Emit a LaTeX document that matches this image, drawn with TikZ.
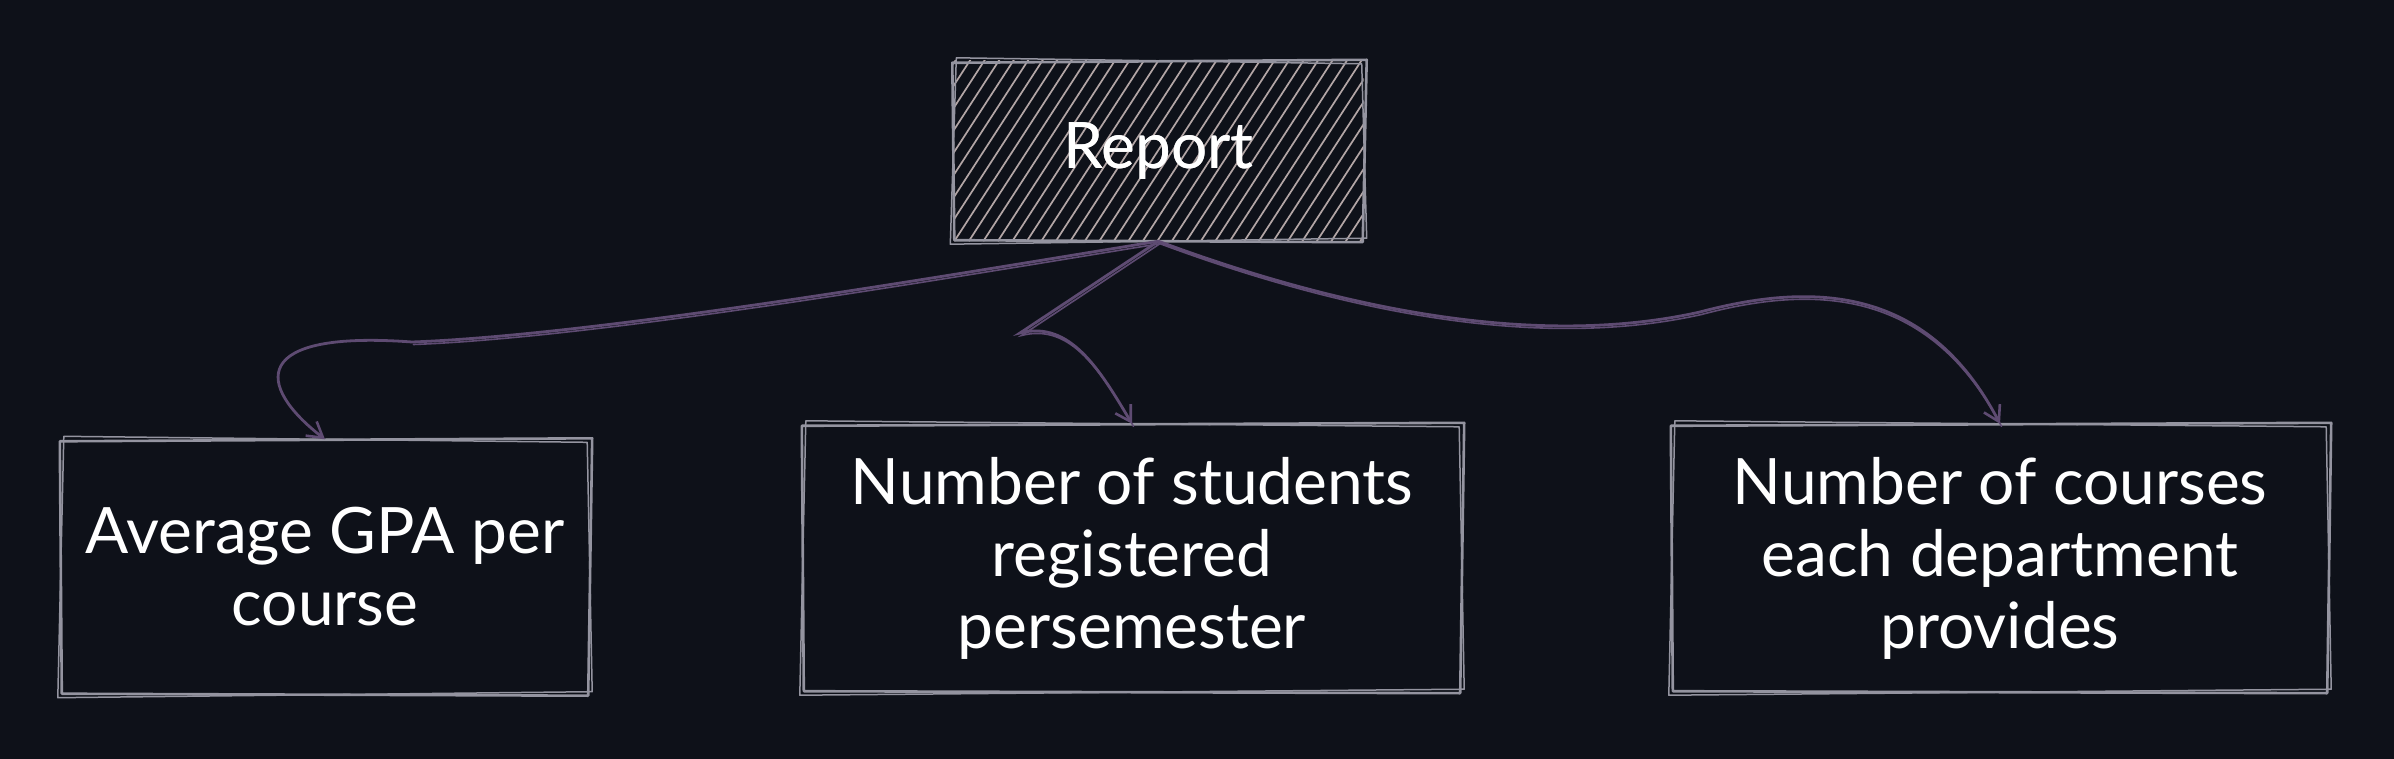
\documentclass[tikz,border=0pt]{standalone}
\usepackage{fontspec}
\setmainfont{Lato}
\usetikzlibrary{calc,arrows.meta}
\definecolor{bg}{HTML}{0E1119}
\definecolor{boxc}{HTML}{9494A0}
\definecolor{hatchc}{HTML}{B3A6A6}
\definecolor{arrc}{HTML}{5E4B72}
\newcommand\roughbox[1]{%
  \draw[boxline] ($(#1.north west)+(-1,2)$) -- ($(#1.north east)+(3,-1)$) -- ($(#1.south east)+(-1,1)$) -- ($(#1.south west)+(1,-1)$) -- cycle;
  \draw[boxline,line width=1.5pt] ($(#1.north west)+(3,-3)$) -- ($(#1.north east)+(-2,3)$) -- ($(#1.south east)+(3,-3)$) -- ($(#1.south west)+(-3,3)$) -- cycle;
}
\begin{document}
\begin{tikzpicture}[x=1pt,y=-1pt,
  lbl/.style={text=white, font=\fontsize{64}{72}\selectfont, align=center, inner sep=0pt, draw=none},
  boxline/.style={draw=boxc, line width=2.6pt, line join=round, line cap=round},
  hatch/.style={draw=hatchc, line width=1.7pt},
  conn/.style={draw=arrc, line width=2.8pt, line cap=round, -{Straight Barb[length=15pt,width=18pt,line width=2.6pt]}},
  connb/.style={draw=arrc, line width=1.6pt, line cap=round, transform canvas={shift={(1.5pt,-2.5pt)}}}]
\fill[bg] (0,0) rectangle (2394,759);
\useasboundingbox (0,0) rectangle (2394,759);

\node[lbl, minimum width=410pt, minimum height=180pt] (rep) at (1158.5,151) {Report};
\node[lbl, minimum width=528pt, minimum height=255pt] (avg) at (325,567) {Average GPA per\\course};
\node[lbl, minimum width=658pt, minimum height=268pt] (reg) at (1132,558) {Number of students\\registered\\persemester};
\node[lbl, minimum width=656pt, minimum height=268pt] (crs) at (2000,558) {Number of courses\\each department\\provides};

% hatch fill of Report
\begin{scope}
  \clip (rep.south west) rectangle (rep.north east);
  \foreach \i in {0,...,38} {
    \draw[hatch] ($(rep.south west)+(\i*14.5-115,0)$) -- ++(118,-182);
  }
\end{scope}
\node[lbl] at (rep) {Report};

\roughbox{rep}
\roughbox{avg}
\roughbox{reg}
\roughbox{crs}

\coordinate (c1) at (412,342);
\coordinate (c2) at (1020,333);
\coordinate (c3) at (1700,312);

\draw[conn] (rep.south) .. controls (950,275) and (600,335) .. (c1) .. controls (250,330) and (255,385) .. (avg.north);
\draw[connb] (rep.south) .. controls (950,275) and (600,335) .. (c1);
\draw[conn] (rep.south) -- (c2) .. controls (1070,320) and (1100,370) .. (reg.north);
\draw[connb] (rep.south) -- (c2) .. controls (1070,320) and (1100,370) .. (reg.north);
\draw[conn] (rep.south) .. controls (1330,305) and (1530,350) .. (c3) .. controls (1820,280) and (1930,290) .. (crs.north);
\draw[connb] (rep.south) .. controls (1330,305) and (1530,350) .. (c3) .. controls (1820,280) and (1930,290) .. (crs.north);
\end{tikzpicture}
\end{document}
